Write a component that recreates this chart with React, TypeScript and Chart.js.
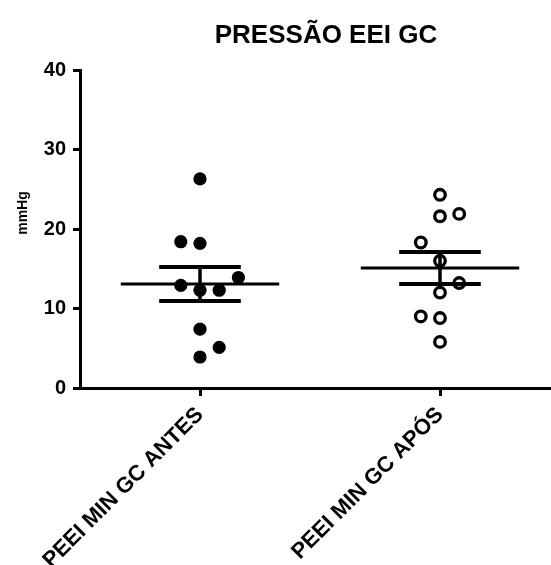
import React, { useEffect, useRef } from 'react';
import { Chart, registerables } from 'chart.js';

Chart.register(...registerables);

const TITLE = 'PRESSÃO EEI GC';
const Y_LABEL = 'mmHg';
const CATEGORIES = ['PEEI MIN GC ANTES', 'PEEI MIN GC APÓS'];
const ANTES = [26.3, 18.4, 18.2, 13.9, 12.9, 12.3, 12.3, 7.4, 5.1, 3.9];
const ANTES_SLOT = [0, -1, 0, 2, -1, 0, 1, 0, 1, 0];
const APOS = [24.3, 21.6, 21.9, 18.3, 16.0, 13.2, 12.0, 9.0, 8.8, 5.8];
const APOS_SLOT = [0, 0, 1, -1, 0, 1, 0, -1, 0, 0];
const Y_MIN = 0;
const Y_MAX = 40;
const Y_STEP = 10;

const FONT = '"Liberation Sans", Arial, Helvetica, sans-serif';
const SLOT_W = 0.08;
const MEAN_HALF = 0.33;
const CAP_HALF = 0.17;

function stats(v: number[]) {
  const n = v.length;
  const mean = v.reduce((a, b) => a + b, 0) / n;
  const sd = Math.sqrt(v.reduce((a, b) => a + (b - mean) * (b - mean), 0) / (n - 1));
  return { mean, sem: sd / Math.sqrt(n) };
}

function seg(x1: number, y1: number, x2: number, y2: number, w: number) {
  return {
    type: 'line' as const,
    data: [{ x: x1, y: y1 }, { x: x2, y: y2 }],
    showLine: true,
    borderColor: '#000',
    borderWidth: w,
    pointRadius: 0,
    pointHoverRadius: 0,
    borderCapStyle: 'butt' as const,
  };
}

function summary(values: number[], cx: number) {
  const { mean, sem } = stats(values);
  return [
    seg(cx - MEAN_HALF, mean, cx + MEAN_HALF, mean, 3),
    seg(cx - CAP_HALF, mean + sem, cx + CAP_HALF, mean + sem, 4),
    seg(cx - CAP_HALF, mean - sem, cx + CAP_HALF, mean - sem, 4),
    seg(cx, mean - sem, cx, mean + sem, 3.5),
  ];
}

const textPlugin = {
  id: 'texts',
  afterDraw(chart: any) {
    const { ctx } = chart;
    ctx.save();
    ctx.fillStyle = '#000';
    ctx.font = `bold 26px ${FONT}`;
    ctx.textAlign = 'center';
    ctx.textBaseline = 'alphabetic';
    ctx.fillText(TITLE, 326, 43);
    ctx.translate(23, 213);
    ctx.rotate(-Math.PI / 2);
    ctx.font = `bold 14px ${FONT}`;
    ctx.textBaseline = 'middle';
    ctx.fillText(Y_LABEL, 0, 0);
    ctx.restore();
  },
};

export default function App() {
  const ref = useRef<HTMLCanvasElement>(null);
  useEffect(() => {
    if (!ref.current) return;
    const chart = new Chart(ref.current, {
      type: 'scatter',
      data: {
        datasets: [
          {
            data: ANTES.map((y, i) => ({ x: 0 + ANTES_SLOT[i] * SLOT_W, y })),
            pointRadius: 6.6,
            pointBackgroundColor: '#000',
            pointBorderColor: '#000',
            pointBorderWidth: 0,
          },
          {
            data: APOS.map((y, i) => ({ x: 1 + APOS_SLOT[i] * SLOT_W, y })),
            pointRadius: 5.3,
            pointBackgroundColor: 'rgba(0,0,0,0)',
            pointBorderColor: '#000',
            pointBorderWidth: 3.3,
          },
          ...summary(ANTES, 0),
          ...summary(APOS, 1),
        ] as any,
      },
      options: {
        animation: false,
        responsive: false,
        events: [],
        layout: { autoPadding: false, padding: { top: 70, left: 0, right: 0, bottom: 0 } },
        plugins: { legend: { display: false }, tooltip: { enabled: false }, title: { display: false } },
        scales: {
          x: {
            type: 'linear',
            min: -0.5,
            max: 1.4625,
            afterFit: (s: any) => { s.height = 177; s.paddingLeft = 0; s.paddingRight = 0; },
            afterBuildTicks: (s: any) => { s.ticks = CATEGORIES.map((_, i) => ({ value: i })); },
            ticks: {
              color: '#000',
              font: { family: FONT, size: 22, weight: 'bold' },
              minRotation: 45,
              maxRotation: 45,
              padding: 6,
              callback: (v: any) => CATEGORIES[v] ?? '',
            },
            grid: { display: true, drawOnChartArea: false, drawTicks: true, tickLength: 8, tickWidth: 3, tickColor: '#000', color: '#000' },
            border: { display: true, color: '#000', width: 3 },
          },
          y: {
            min: Y_MIN,
            max: Y_MAX,
            afterFit: (s: any) => { s.width = 80; s.paddingTop = 0; s.paddingBottom = 0; },
            ticks: {
              stepSize: Y_STEP,
              color: '#000',
              font: { family: FONT, size: 20, weight: 'bold' },
              padding: 7,
            },
            grid: { display: true, drawOnChartArea: false, drawTicks: true, tickLength: 7, tickWidth: 3, tickColor: '#000', color: '#000' },
            border: { display: true, color: '#000', width: 3 },
          },
        },
      } as any,
      plugins: [textPlugin],
    });
    return () => chart.destroy();
  }, []);
  return (
    <div style={{ position: 'absolute', left: 0, top: 0, width: 551, height: 565, background: '#fff' }}>
      <canvas ref={ref} width={551} height={565} style={{ display: 'block' }} />
    </div>
  );
}
